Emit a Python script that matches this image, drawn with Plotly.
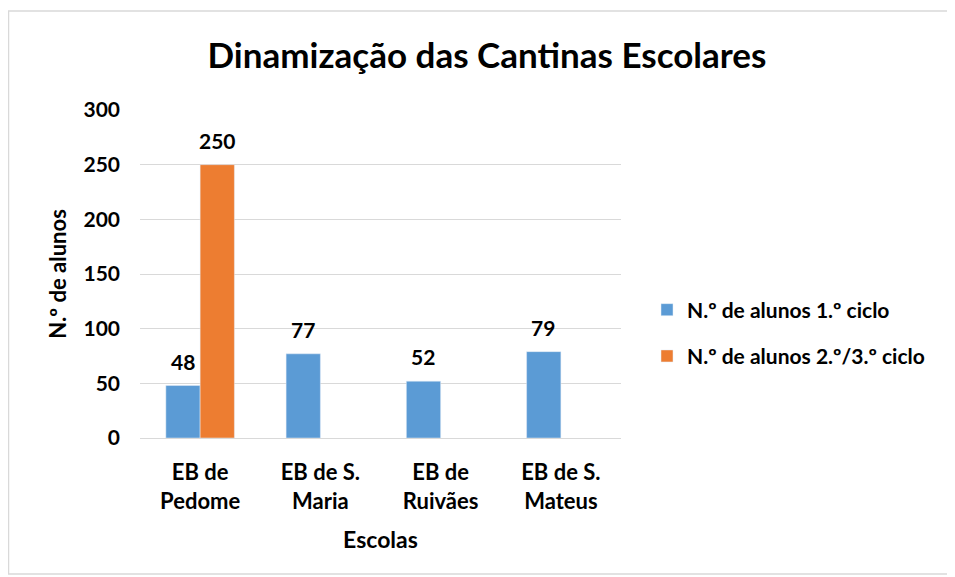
import plotly.graph_objects as go

categories = ["EB de<br>Pedome", "EB de S.<br>Maria", "EB de<br>Ruivães", "EB de S.<br>Mateus"]
serie_1ciclo = [48, 77, 52, 79]
serie_23ciclo = [250, None, None, None]
y_ticks = [0, 50, 100, 150, 200, 250, 300]

FONT = "Lato, 'Open Sans', sans-serif"
# page body adds an 8px offset, so the figure is laid out 8px smaller
W, H = 947, 569
L, R, T, B = 132, 334, 102, 139
pw, ph = W - L - R, H - T - B

fig = go.Figure()
fig.add_trace(go.Bar(
    x=categories, y=serie_1ciclo, name="N.º de alunos 1.º ciclo",
    marker_color="#5b9bd5", legendgroup="a", offsetgroup="a",
))
fig.add_trace(go.Bar(
    x=categories, y=serie_23ciclo, name="N.º de alunos 2.º/3.º ciclo",
    marker_color="#ed7d31", legendgroup="b", offsetgroup="b",
))

annotations = []
for series, shift in ((serie_1ciclo, -0.145), (serie_23ciclo, 0.145)):
    for i, v in enumerate(series):
        if v is None:
            continue
        annotations.append(dict(
            x=i + shift, y=v, xref="x", yref="y", text=f"<b>{v}</b>",
            showarrow=False, yanchor="bottom", yshift=10,
            font=dict(size=21, family=FONT, color="black"),
        ))

fig.update_layout(
    width=W, height=H,
    margin=dict(l=L, r=R, t=T, b=B, autoexpand=False),
    paper_bgcolor="white", plot_bgcolor="white",
    barmode="group", bargap=0.43, bargroupgap=0,
    font=dict(family=FONT, color="black", size=21),
    title=dict(text="<b>Dinamização das Cantinas Escolares</b>",
               x=479 / W, xanchor="center", y=1 - 48 / H, yanchor="middle",
               font=dict(size=35, family=FONT, color="black")),
    showlegend=True,
    legend=dict(x=(639 - L) / pw, xanchor="left", y=(430 - 325) / ph, yanchor="middle",
                font=dict(size=21, family=FONT, color="black", weight="bold"),
                tracegroupgap=16, itemwidth=30, bgcolor="rgba(0,0,0,0)"),
    xaxis=dict(showgrid=False, showline=True, linecolor="#d9d9d9", linewidth=1,
               ticks="", ticklabelstandoff=15,
               tickfont=dict(size=22, family=FONT, color="black", weight="bold"),
               title=dict(text="<b>Escolas</b>", font=dict(size=23, family=FONT), standoff=18)),
    yaxis=dict(range=[0, 300], tickvals=y_ticks, showgrid=True, gridcolor="#d9d9d9",
               gridwidth=1, zeroline=False, showline=False, ticks="",
               ticklabelstandoff=19,
               tickfont=dict(size=21, family=FONT, color="black", weight="bold"),
               title=dict(text="<b>N.º de alunos</b>", font=dict(size=22, family=FONT), standoff=10)),
    annotations=annotations,
    shapes=[dict(type="rect", xref="paper", yref="paper",
                 x0=(0.5 - L) / pw, x1=(945 - L) / pw,
                 y0=(430 - 566) / ph, y1=(430 - 3) / ph,
                 line=dict(color="#d9d9d9", width=1.5), fillcolor="rgba(0,0,0,0)", layer="below")],
)

fig.write_html("out.html")
